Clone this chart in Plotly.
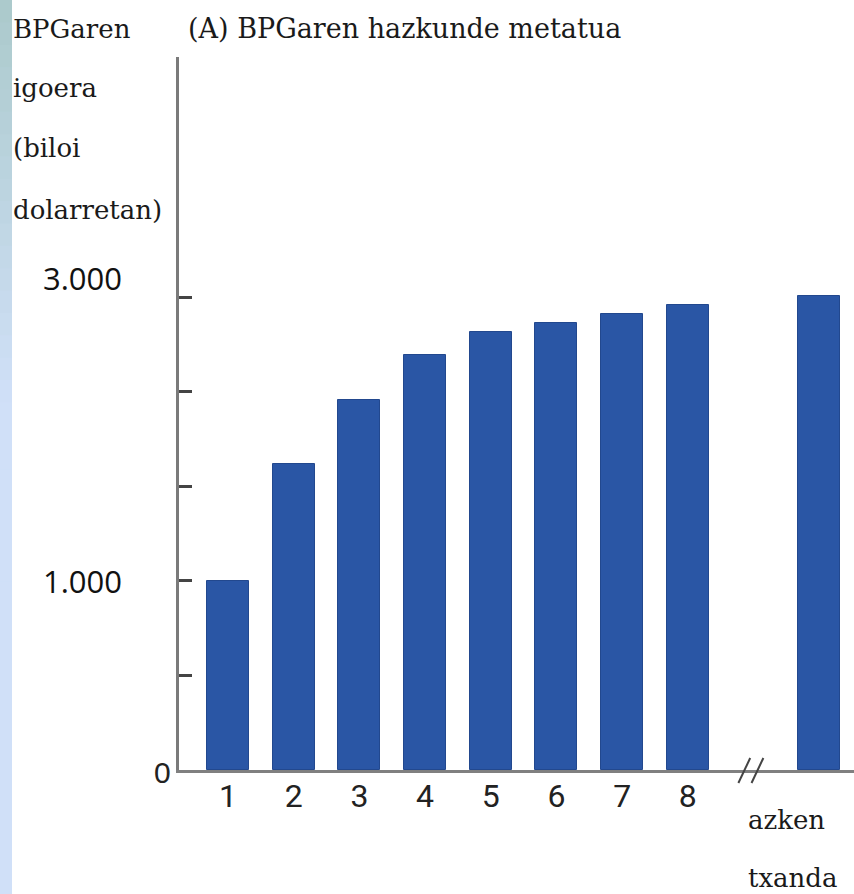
import plotly.graph_objects as go

# ---- data ----
rounds = [1, 2, 3, 4, 5, 6, 7, 8]
round_labels = ["1", "2", "3", "4", "5", "6", "7", "8"]
final_pos = 10
gdp_increase = [1000, 1620, 1955, 2195, 2315, 2365, 2415, 2460]
final_value = 2510
ytick_vals = [500, 1000, 1500, 2000, 2500]

W, H = 854, 894
L, R, T, B = 179, 0, 57, 124
PW, PH = W - L - R, H - T - B


def px_x(px):
    return (px - L) / PW


def px_y(py):
    return (H - B - py) / PH


bar_color = "#2a56a5"
fig = go.Figure()
fig.add_trace(go.Bar(
    x=rounds + [final_pos],
    y=gdp_increase + [final_value],
    width=0.64,
    marker=dict(color=bar_color, line=dict(color="#22488e", width=1)),
    hoverinfo="skip",
))

serif = "DejaVu Serif"
ann = []
# title
ann.append(dict(text="(A) BPGaren hazkunde metatua", x=px_x(186), y=px_y(29),
                xref="paper", yref="paper", xanchor="left", yanchor="middle",
                showarrow=False, font=dict(family=serif, size=27, color="#1a1a1a")))
# y-axis title lines
for txt, yc in [("BPGaren", 29), ("igoera", 88), ("(biloi", 148), ("dolarretan)", 210)]:
    ann.append(dict(text=txt, x=px_x(11), y=px_y(yc), xref="paper", yref="paper",
                    xanchor="left", yanchor="middle", showarrow=False,
                    font=dict(family=serif, size=26, color="#1a1a1a")))
# overlaid y labels
for txt, yc in [("3.000", 278), ("1.000", 581)]:
    ann.append(dict(text=txt, x=px_x(124), y=px_y(yc), xref="paper", yref="paper",
                    xanchor="right", yanchor="middle", showarrow=False,
                    font=dict(family="Open Sans", size=31, color="#111")))
ann.append(dict(text="0", x=px_x(173), y=px_y(772), xref="paper", yref="paper",
                xanchor="right", yanchor="middle", showarrow=False,
                font=dict(family="Liberation Sans", size=30, color="#222")))
# final label
for txt, yc in [("azken", 820), ("txanda", 878)]:
    ann.append(dict(text=txt, x=px_x(746), y=px_y(yc), xref="paper", yref="paper",
                    xanchor="left", yanchor="middle", showarrow=False,
                    font=dict(family=serif, size=26, color="#1a1a1a")))

shapes = []
# left gradient band
n = 40
c_top = (172, 202, 204)
c_bot = (208, 224, 248)
for i in range(n):
    f = min(1.0, (i / (n - 1)) / 0.45)
    c = tuple(int(round(c_top[k] + (c_bot[k] - c_top[k]) * f)) for k in range(3))
    y0 = i * H / n
    y1 = (i + 1) * H / n + 1
    shapes.append(dict(type="rect", xref="paper", yref="paper",
                       x0=px_x(0), x1=px_x(12), y0=px_y(y1), y1=px_y(y0),
                       fillcolor="rgb(%d,%d,%d)" % c, line=dict(width=0), layer="below"))
# axis break marks "//"
for dx in [-0.14, 0.06]:
    shapes.append(dict(type="line", xref="x", yref="paper",
                       x0=9 + dx - 0.09, x1=9 + dx + 0.09, y0=px_y(783), y1=px_y(758),
                       line=dict(color="#444", width=2)))

fig.update_layout(
    width=W, height=H,
    margin=dict(l=L, r=R, t=T, b=B),
    paper_bgcolor="white", plot_bgcolor="white",
    showlegend=False,
    bargap=0,
    annotations=ann,
    shapes=shapes,
    xaxis=dict(range=[0.254, 10.53], tickvals=rounds, ticktext=round_labels,
               showgrid=False, zeroline=False, showline=True, linecolor="#808080",
               linewidth=3, ticks="", ticklabelstandoff=-4,
               tickfont=dict(family="Liberation Sans Narrow, Roboto", size=32, color="#222")),
    yaxis=dict(range=[0, 3772], tickvals=ytick_vals, showticklabels=False,
               showgrid=False, zeroline=False, showline=True, linecolor="#7a7a7a",
               linewidth=3, ticks="inside", ticklen=13, tickwidth=3, tickcolor="#444"),
)

fig.write_html("out.html", config={"displayModeBar": False},
               post_script="document.body.style.margin='0';document.body.style.overflow='hidden';")
